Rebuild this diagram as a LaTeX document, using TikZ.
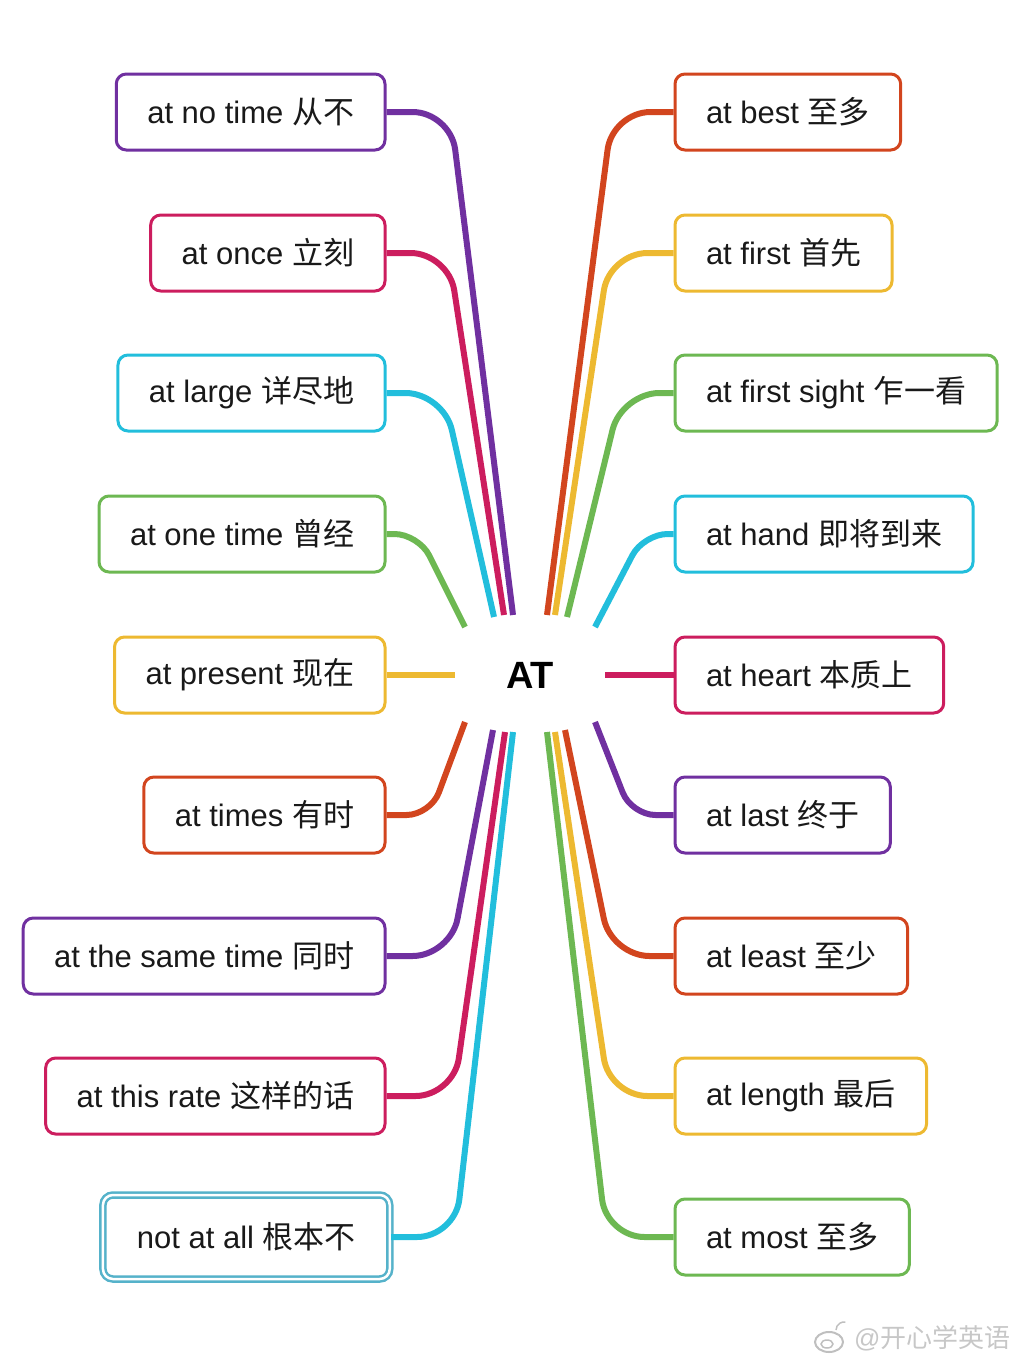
\documentclass[tikz,border=0pt]{standalone}
\usepackage{fontspec}
\setmainfont{Liberation Sans}
\newfontfamily\cjk{Noto Sans CJK SC}

\definecolor{atpurple}{HTML}{7030A0}
\definecolor{atcrimson}{HTML}{CC1D5E}
\definecolor{atcyan}{HTML}{22BEDC}
\definecolor{atgreen}{HTML}{6DB852}
\definecolor{atyellow}{HTML}{EDB931}
\definecolor{atorange}{HTML}{D2451E}
\definecolor{atframe}{HTML}{55B2CA}

\begin{document}
\begin{tikzpicture}
    [x=1pt,y=1pt,
     phrase/.style={draw,fill=white,rounded corners=10pt,line width=3pt,
       minimum height=76pt,inner xsep=31pt,text=black!90,
       font=\fontsize{31}{36}\selectfont},
     branch/.style={line width=6pt,rounded corners=38pt}]

    \useasboundingbox (0,0) rectangle (1024,-1365);

    % hub:
    \node (hub) at (530,-675) [font=\fontsize{38}{44}\selectfont\bfseries] {AT};

    % left phrases:
    \node (l1) at (386.5,-112) [phrase,draw=atpurple,anchor=east] {at no time {\cjk 从不}};
    \node (l2) at (386.5,-253) [phrase,draw=atcrimson,anchor=east] {at once {\cjk 立刻}};
    \node (l3) at (386.5,-393) [phrase,draw=atcyan,anchor=east] {at large {\cjk 详尽地}};
    \node (l4) at (386.5,-534) [phrase,draw=atgreen,anchor=east] {at one time {\cjk 曾经}};
    \node (l5) at (386.5,-675) [phrase,draw=atyellow,anchor=east] {at present {\cjk 现在}};
    \node (l6) at (386.5,-815) [phrase,draw=atorange,anchor=east] {at times {\cjk 有时}};
    \node (l7) at (386.5,-956) [phrase,draw=atpurple,anchor=east] {at the same time {\cjk 同时}};
    \node (l8) at (386.5,-1096) [phrase,draw=atcrimson,anchor=east] {at this rate {\cjk 这样的话}};
    \node (l9) at (391,-1237) [phrase,draw=atframe,anchor=east,double=white,
      double distance=2.5pt,line width=2.5pt,minimum height=84pt,inner xsep=34pt]
      {not at all {\cjk 根本不}};

    % right phrases:
    \node (r1) at (673.5,-112) [phrase,draw=atorange,anchor=west] {at best {\cjk 至多}};
    \node (r2) at (673.5,-253) [phrase,draw=atyellow,anchor=west] {at first {\cjk 首先}};
    \node (r3) at (673.5,-393) [phrase,draw=atgreen,anchor=west] {at first sight {\cjk 乍一看}};
    \node (r4) at (673.5,-534) [phrase,draw=atcyan,anchor=west] {at hand {\cjk 即将到来}};
    \node (r5) at (673.5,-675) [phrase,draw=atcrimson,anchor=west] {at heart {\cjk 本质上}};
    \node (r6) at (673.5,-815) [phrase,draw=atpurple,anchor=west] {at last {\cjk 终于}};
    \node (r7) at (673.5,-956) [phrase,draw=atorange,anchor=west] {at least {\cjk 至少}};
    \node (r8) at (673.5,-1096) [phrase,draw=atyellow,anchor=west] {at length {\cjk 最后}};
    \node (r9) at (673.5,-1237) [phrase,draw=atgreen,anchor=west] {at most {\cjk 至多}};

    % branch ends round the hub:
    \coordinate (e-l1) at (513,-615);
    \coordinate (e-l2) at (504,-615);
    \coordinate (e-l3) at (494,-617);
    \coordinate (e-l4) at (465,-627);
    \coordinate (e-l5) at (455,-675);
    \coordinate (e-l6) at (465,-722);
    \coordinate (e-l7) at (493,-730);
    \coordinate (e-l8) at (505,-732);
    \coordinate (e-l9) at (513,-732);
    \coordinate (e-r1) at (547,-615);
    \coordinate (e-r2) at (555,-615);
    \coordinate (e-r3) at (567,-617);
    \coordinate (e-r4) at (595,-627);
    \coordinate (e-r5) at (605,-675);
    \coordinate (e-r6) at (595,-722);
    \coordinate (e-r7) at (565,-730);
    \coordinate (e-r8) at (555,-732);
    \coordinate (e-r9) at (547,-732);

    % connect phrases to the hub:
    \draw [branch,atpurple] (l1.east) -- ++(64,0) -- (e-l1);
    \draw [branch,atcrimson] (l2.east) -- ++(62,0) -- (e-l2);
    \draw [branch,atcyan] (l3.east) -- ++(57,0) -- (e-l3);
    \draw [branch,atgreen,rounded corners=24pt] (l4.east) -- ++(32,0) -- (e-l4);
    \draw [branch,atyellow] (l5.east) -- (e-l5);
    \draw [branch,atorange,rounded corners=24pt] (l6.east) -- ++(44,0) -- (e-l6);
    \draw [branch,atpurple] (l7.east) -- ++(64,0) -- (e-l7);
    \draw [branch,atcrimson] (l8.east) -- ++(67,0) -- (e-l8);
    \draw [branch,atcyan] (l9.east) -- ++(64,0) -- (e-l9);
    \draw [branch,atorange] (r1.west) -- ++(-61,0) -- (e-r1);
    \draw [branch,atyellow] (r2.west) -- ++(-64,0) -- (e-r2);
    \draw [branch,atgreen] (r3.west) -- ++(-52,0) -- (e-r3);
    \draw [branch,atcyan,rounded corners=24pt] (r4.west) -- ++(-30,0) -- (e-r4);
    \draw [branch,atcrimson] (r5.west) -- (e-r5);
    \draw [branch,atpurple,rounded corners=24pt] (r6.west) -- ++(-42,0) -- (e-r6);
    \draw [branch,atorange] (r7.west) -- ++(-62,0) -- (e-r7);
    \draw [branch,atyellow] (r8.west) -- ++(-64,0) -- (e-r8);
    \draw [branch,atgreen] (r9.west) -- ++(-67,0) -- (e-r9);

    % watermark:
    \draw [black!25,line width=2pt] (829,-1342) ellipse [x radius=14, y radius=10];
    \draw [black!25,line width=1.5pt] (827,-1344) ellipse [x radius=6, y radius=4];
    \draw [black!25,line width=1.5pt] (836,-1330) arc [start angle=180, end angle=80, radius=8];
    \node (mark) at (1014,-1338) [anchor=east,text=black!22,font=\fontsize{26}{30}\selectfont]
      {@{\cjk 开心学英语}};

  \end{tikzpicture}
\end{document}
